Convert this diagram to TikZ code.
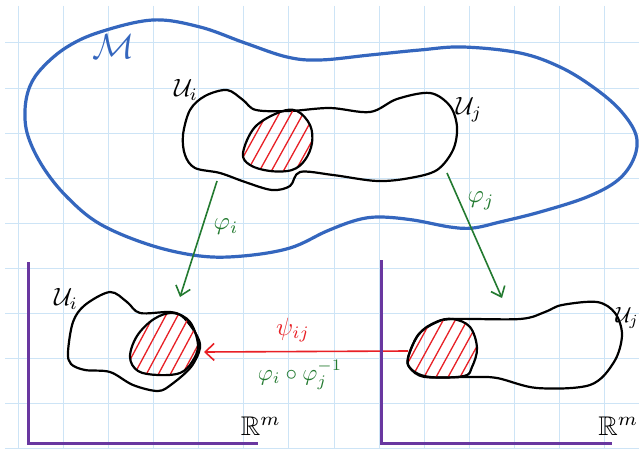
\documentclass[tikz,border=0pt]{standalone}
\usepackage{amsmath,amssymb}
\usetikzlibrary{arrows.meta}
\definecolor{gridblue}{RGB}{205,228,246}
\definecolor{mfblue}{RGB}{52,102,190}
\definecolor{chartgreen}{RGB}{35,122,48}
\definecolor{transred}{RGB}{232,32,38}
\definecolor{axpurple}{RGB}{105,55,160}
\tikzset{
  gridln/.style={gridblue,line width=1pt},
  mfld/.style={mfblue,line width=3.2pt,line join=round},
  patch/.style={black,line width=2.2pt,line join=round},
  hatch/.style={transred,line width=1.3pt,line cap=round},
  chartarr/.style={-{Straight Barb[length=9pt,width=15pt]},chartgreen,line width=1.6pt},
  transarr/.style={-{Straight Barb[length=9pt,width=17pt]},transred,line width=1.6pt},
  axisln/.style={axpurple,line width=3pt},
  lbl/.style={inner sep=0pt},
}

\begin{document}
\begin{tikzpicture}[x=1pt,y=-1pt]
  \useasboundingbox[fill=white] (0,0) rectangle (639,449);
  % squared paper
  \foreach \i in {0,...,13}
    \draw[gridln] (18.3+45.1*\i,6) -- (18.3+45.1*\i,449);
  \foreach \j in {0,...,9}
    \draw[gridln] (5,43+45.1*\j) -- (639,43+45.1*\j);

  % the manifold
  \draw[mfld] plot[smooth cycle,tension=0.6] coordinates {
    (25,110) (30,86) (43,67) (67,47) (100,32) (153,20) (200,27) (245,43)
    (287,57) (320,60) (370,55) (420,50) (463,47) (520,53) (560,67) (593,87)
    (620,110) (636,135) (634,158) (618,180) (587,197) (540,212) (500,222)
    (473,228) (450,227) (413,220) (380,217) (357,220) (327,231) (290,248)
    (243,256) (200,256) (150,245) (100,224) (67,197) (43,167) (28,136)};

  % patches U_i, U_j inside M and the overlap
  \draw[patch] plot[smooth cycle,tension=0.55] coordinates {
    (183,135) (190,110) (205,96) (227,90) (243,100) (256,110) (290,111)
    (330,108) (370,112) (397,99) (430,93) (450,106) (457,127) (453,150)
    (437,170) (410,178) (377,181) (333,175) (300,172) (290,186) (272,190)
    (245,182) (220,173) (195,168) (185,155)};
  \begin{scope}
    \clip plot[smooth cycle,tension=0.6] coordinates {
      (243,153) (255,127) (280,112) (297,111) (310,125) (312,143) (305,160)
      (292,170) (270,171) (250,165)};
    \foreach \c in {240,252,...,324}
      \draw[hatch] (\c-26,188) -- (\c+26,94);
  \end{scope}
  \draw[patch] plot[smooth cycle,tension=0.6] coordinates {
    (243,153) (255,127) (280,112) (297,111) (310,125) (312,143) (305,160)
    (292,170) (270,171) (250,165)};

  % chart images in R^m
  \draw[patch] plot[smooth cycle,tension=0.55] coordinates {
    (68,352) (73,322) (85,305) (110,292) (127,302) (140,313) (170,312)
    (183,317) (196,334) (200,348) (191,367) (172,384) (158,391) (133,385)
    (110,372) (85,370) (71,364)};
  \begin{scope}
    \clip plot[smooth cycle,tension=0.6] coordinates {
      (130,357) (137,336) (154,319) (173,313) (190,322) (198,345) (192,362)
      (180,373) (158,375) (138,371)};
    \foreach \c in {126,138,...,210}
      \draw[hatch] (\c-23,388) -- (\c+23,302);
  \end{scope}
  \draw[patch] plot[smooth cycle,tension=0.6] coordinates {
    (130,357) (137,336) (154,319) (173,313) (190,322) (198,345) (192,362)
    (180,373) (158,375) (138,371)};

  \draw[patch] plot[smooth cycle,tension=0.55] coordinates {
    (408,358) (418,335) (435,323) (453,319) (520,319) (545,312) (562,305)
    (597,302) (615,313) (622,335) (614,362) (590,385) (537,388) (497,378)
    (470,377) (425,377) (410,368)};
  \begin{scope}
    \clip plot[smooth cycle,tension=0.6] coordinates {
      (408,358) (419,334) (436,322) (453,319) (470,327) (477,348) (472,367)
      (464,376) (430,377) (412,370)};
    \foreach \c in {404,416,...,488}
      \draw[hatch] (\c-23,390) -- (\c+23,306);
  \end{scope}
  \draw[patch] plot[smooth cycle,tension=0.6] coordinates {
    (408,358) (419,334) (436,322) (453,319) (470,327) (477,348) (472,367)
    (464,376) (430,377) (412,370)};

  % maps
  \coordinate (phiiS) at (217,181);
  \coordinate (phiiE) at (180,297);
  \coordinate (phijS) at (447,173);
  \coordinate (phijE) at (502,298);
  \coordinate (psiS) at (408,351);
  \coordinate (psiE) at (204,352);
  \draw[chartarr] (phiiS) -- (phiiE);
  \draw[chartarr] (phijS) -- (phijE);
  \draw[transarr] (psiS) -- (psiE);

  % axes
  \draw[axisln] (28,262) -- (28,443) -- (258,443);
  \draw[axisln] (381,260) -- (381,443) -- (612,443);

  % labels
  \node[lbl,mfblue,scale=3.5] (lblM) at (114,47) {$\mathcal{M}$};
  \node[lbl,scale=2.5] (lblUi) at (186,90) {$\mathcal{U}_i$};
  \node[lbl,scale=2.5] (lblUj) at (469,110) {$\mathcal{U}_j$};
  \node[lbl,scale=2.5] (lblUiL) at (66,299) {$\mathcal{U}_i$};
  \node[lbl,scale=2.2,anchor=east] (lblUjR) at (639,318) {$\mathcal{U}_j$};
  \node[lbl,chartgreen,scale=2.5] (lblphii) at (226,227) {$\varphi_i$};
  \node[lbl,chartgreen,scale=2.5] (lblphij) at (481,201) {$\varphi_j$};
  \node[lbl,transred,scale=2.5] (lblpsi) at (293,330) {$\psi_{ij}$};
  \node[lbl,chartgreen,scale=2.3] (lblcomp) at (300,375) {$\varphi_i\circ\varphi_j^{-1}$};
  \node[lbl,scale=2.7] (lblRmL) at (261,426) {$\mathbb{R}^m$};
  \node[lbl,scale=2.7,anchor=east] (lblRmR) at (639,426) {$\mathbb{R}^m$};
\end{tikzpicture}
\end{document}
